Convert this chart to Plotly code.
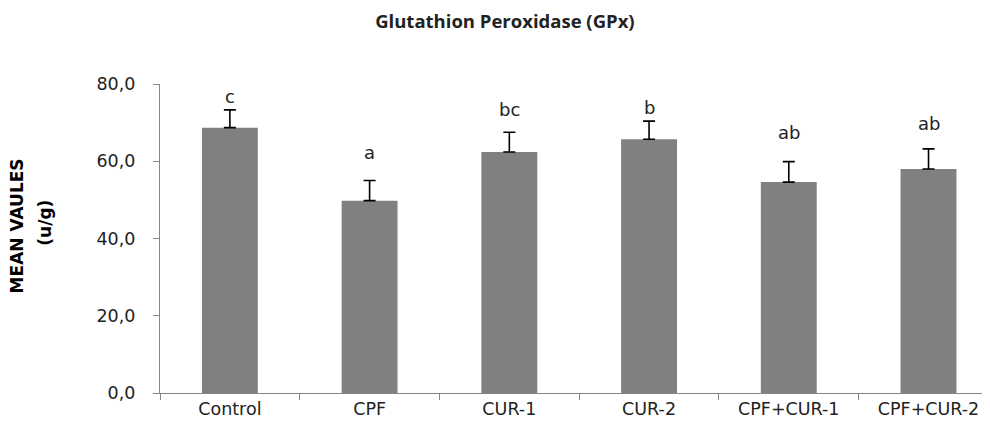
import plotly.graph_objects as go

groups = ['Control', 'CPF', 'CUR-1', 'CUR-2', 'CPF+CUR-1', 'CPF+CUR-2']
means = [68.7, 49.8, 62.4, 65.7, 54.6, 58.0]
errors = [4.6, 5.2, 5.1, 4.7, 5.3, 5.2]
letters = ['c', 'a', 'bc', 'b', 'ab', 'ab']
letter_y = [75.2, 60.5, 71.8, 72.3, 65.8, 68.1]
y_ticks = [0, 20, 40, 60, 80]
y_tick_text = ['0,0', '20,0', '40,0', '60,0', '80,0']

axis_grey = '#868686'
tick_font = dict(family='DejaVu Sans', size=17.5, color='#222222')

fig = go.Figure(go.Bar(
    x=groups, y=means,
    width=0.4,
    marker_color='#808080',
    marker_line_width=0,
    error_y=dict(type='data', array=errors, arrayminus=[0] * len(errors),
                 symmetric=False, color='black', thickness=1.6, width=6),
))

for g, lt, ly in zip(groups, letters, letter_y):
    fig.add_annotation(x=g, y=ly, text=lt, showarrow=False, yanchor='bottom', yshift=-6,
                       font=dict(family='DejaVu Sans', size=18, color='#222222'))

# y axis title, two lines placed separately
fig.add_annotation(xref='paper', yref='paper', x=-0.172, y=0.54, xanchor='center', yanchor='middle',
                   text='<b>MEAN VAULES</b>', showarrow=False, textangle=-90,
                   font=dict(family='DejaVu Sans', size=17, color='black'))
fig.add_annotation(xref='paper', yref='paper', x=-0.139, y=0.55, xanchor='center', yanchor='middle',
                   text='<b>(u/g)</b>', showarrow=False, textangle=-90,
                   font=dict(family='DejaVu Sans', size=17, color='black'))

# page body has an 8px margin, so the figure is a bit smaller than the window
fig.update_layout(
    width=982, height=422,
    margin=dict(l=152, r=0, t=76, b=37),
    plot_bgcolor='white', paper_bgcolor='white',
    showlegend=False,
    title=dict(text='<b>Glutathion Peroxidase (GPx)</b>', x=0.506, xanchor='center',
               y=0.968, yanchor='middle',
               font=dict(family='Open Sans', size=18.5, color='#222222')),
)
fig.update_xaxes(range=[-0.5, 5.44], showline=True, linecolor=axis_grey, linewidth=1.3,
                 ticks='outside', tickson='boundaries', ticklen=6, tickcolor=axis_grey,
                 tickfont=tick_font, showgrid=False, zeroline=False, automargin=False)
fig.update_yaxes(range=[0, 80], tickvals=y_ticks, ticktext=y_tick_text,
                 showline=True, linecolor=axis_grey, linewidth=1.3,
                 ticks='outside', ticklen=6, tickcolor=axis_grey, ticklabelstandoff=14,
                 tickfont=tick_font, showgrid=False, zeroline=False, automargin=False)

fig.write_html('out.html')
